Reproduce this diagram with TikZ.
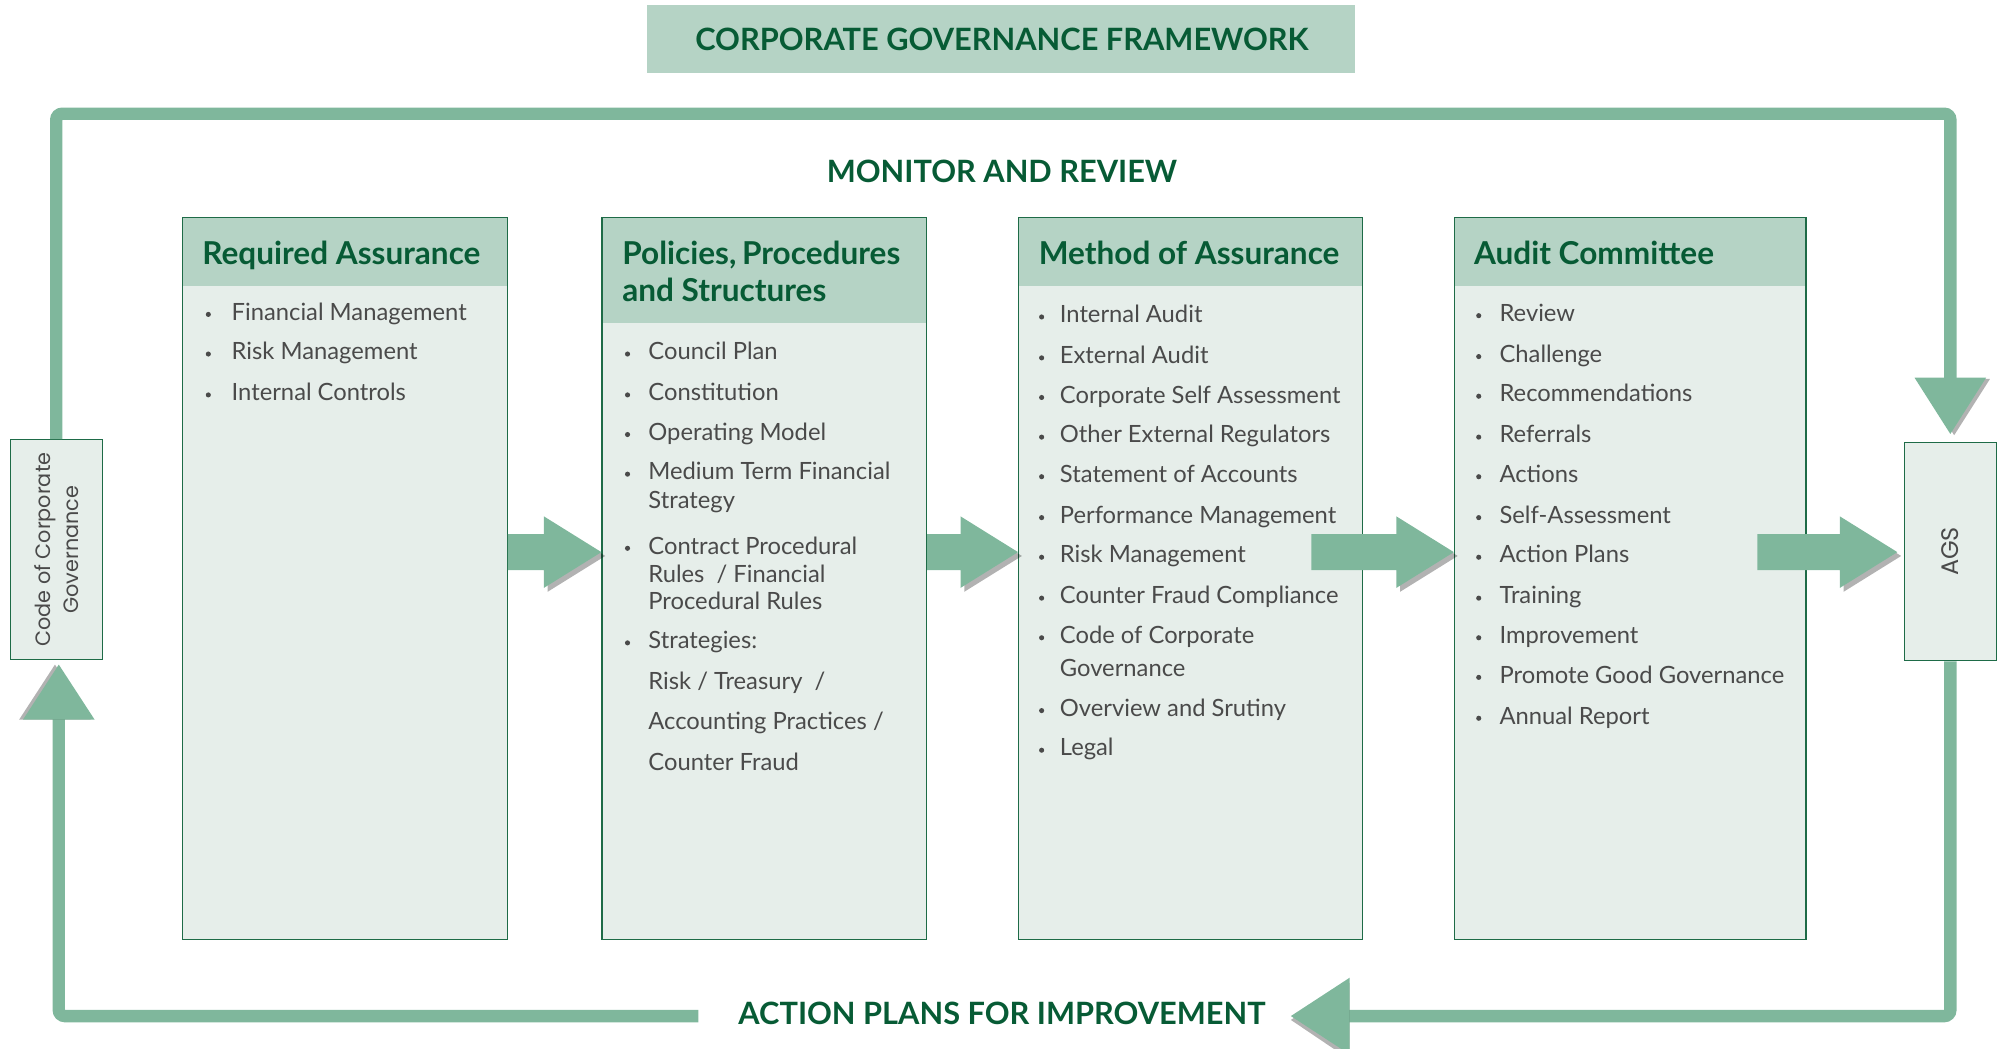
\documentclass[tikz,border=0pt]{standalone}
\usepackage{fontspec}
\setmainfont{Lato}
\newfontfamily\geofont{Poppins}
\usetikzlibrary{positioning,calc,fit}

\definecolor{loopgreen}{HTML}{7FB79C}
\definecolor{headgreen}{HTML}{B5D3C5}
\definecolor{paleface}{HTML}{E6EEEA}
\definecolor{rimgreen}{HTML}{1E6B47}
\definecolor{darkgreen}{HTML}{075B35}
\definecolor{itemgrey}{HTML}{4A4A4A}

\tikzset{
  colbox/.style={draw=rimgreen, line width=0.6pt, fill=paleface, inner sep=0pt},
  headbox/.style={fill=headgreen, inner sep=0pt},
  headtext/.style={anchor=base west, inner sep=0pt, text=darkgreen,
    font=\fontsize{15.8}{18}\selectfont\bfseries},
  itemtext/.style={anchor=base west, inner sep=0pt, text=itemgrey,
    font=\fontsize{11.9}{14}\selectfont},
  banner/.style={anchor=base, inner sep=0pt, text=darkgreen,
    font=\fontsize{15.4}{18}\selectfont\bfseries},
  loopline/.style={draw=loopgreen, line width=6.2pt, rounded corners=3pt},
  sidetext/.style={text=itemgrey, rotate=90, align=center, inner sep=0pt,
    font=\geofont\fontsize{10.4}{14}\selectfont},
  headshadow/.style={fill=black, opacity=0.3},
}

% block arrow from tail to tip, both on the same height
\newcommand{\blockarrow}[2]{%
  \fill[headshadow] ($(#2)+(3,3)$) -- ($(#2)+(-42,31)$) -- ($(#2)+(-42,-25)$) -- cycle;
  \fill[loopgreen] ($(#1)+(0,-14)$) -| ($(#2)+(-45,-28)$) -- (#2)
    -- ($(#2)+(-45,28)$) |- ($(#1)+(0,14)$) -- cycle;
}

\begin{document}
\begin{tikzpicture}[x=0.64pt, y=-0.64pt]
\useasboundingbox (0,0) rectangle (1568,820);

% banners
\node[headbox, fit={(506,4) (1060,57)}] (titlebox) {};
\node[banner] (title) at (784,39.7) {CORPORATE GOVERNANCE FRAMEWORK};
\node[banner] (monitor) at (784,143) {MONITOR AND REVIEW};
\node[banner] (action) at (784,801.7) {ACTION PLANS FOR IMPROVEMENT};

% columns
\node[colbox, fit={(143,170) (397,735)}] (reqbox) {};
\node[colbox, fit={(471,170) (725,735)}] (polbox) {};
\node[colbox, fit={(797,170) (1066,735)}] (methbox) {};
\node[colbox, fit={(1138,170) (1413,735)}] (auditbox) {};

\node[headbox, fit={(143.5,170.5) (396.5,224)}] (reqtop) {};
\node[headbox, fit={(471.5,170.5) (724.5,253)}] (poltop) {};
\node[headbox, fit={(797.5,170.5) (1065.5,224)}] (methtop) {};
\node[headbox, fit={(1138.5,170.5) (1412.5,224)}] (audittop) {};

\node[headtext] (reqhead) at (158,206.6) {Required Assurance};
\node[headtext] (polhead) at (486.6,206.6) {Policies,\kern-1pt\ Procedures};
\node[headtext] (polhead2) at (486.6,236) {and Structures};
\node[headtext] (methhead) at (812.5,206.6) {Method of Assurance};
\node[headtext] (audithead) at (1153,206.6) {Audit Committee};

% items
\foreach \yy/\txt [count=\i] in {244/Financial Management, 275/Risk Management,
    307/Internal Controls} {
  \fill[itemgrey] (163,\yy+2) circle (2);
  \node[itemtext] (req\i) at (181,\yy+6.5) {\txt};
}
\foreach \yy/\txt [count=\i] in {275/Council Plan, 307/Constitution,
    338/Operating Model, 369/Medium Term Financial, 427/Contract Procedural,
    501/Strategies:} {
  \fill[itemgrey] (491,\yy+2) circle (2);
  \node[itemtext] (pol\i) at (507,\yy+6.5) {\txt};
}
\foreach \yy/\txt [count=\i] in {391/Strategy, 449/{Rules\ \ / Financial},
    470/Procedural Rules, 533/{Risk / Treasury\ \ /},
    564/{Accounting Practices /}, 596/Counter Fraud} {
  \node[itemtext] (polmore\i) at (507,\yy+6.5) {\txt};
}
\foreach \yy/\txt [count=\i] in {246/Internal Audit, 278/External Audit,
    309/Corporate Self Assessment, 340/Other External Regulators,
    371/Statement of Accounts, 403/Performance Management,
    434/Risk Management, 466/Counter Fraud Compliance,
    497/Code of Corporate, 554/Overview and Srutiny, 585/Legal} {
  \fill[itemgrey] (815,\yy+2) circle (2);
  \node[itemtext] (meth\i) at (829,\yy+6.5) {\txt};
}
\node[itemtext] (methmore) at (829,529.5) {Governance};
\foreach \yy/\txt [count=\i] in {245/Review, 277/Challenge,
    308/Recommendations, 340/Referrals, 371/Actions, 403/Self-Assessment,
    434/Action Plans, 466/Training, 497/Improvement,
    528/Promote Good Governance, 560/Annual Report} {
  \fill[itemgrey] (1157,\yy+2) circle (2);
  \node[itemtext] (audit\i) at (1173,\yy+6.5) {\txt};
}

% side boxes
\node[colbox, fit={(8,344) (80,516)}] (codebox) {};
\node[sidetext] (codetext) at (codebox.center) {Code of Corporate\\Governance};
\node[colbox, fit={(1490,346) (1562,517)}] (agsbox) {};
\node[sidetext, font=\geofont\fontsize{12}{14}\selectfont] (agstext) at (agsbox.center) {AGS};

% flow arrows
\coordinate (axis) at (0,432);
\coordinate (methtail) at (1026,432);
\coordinate (audittail) at (1375,432);
\coordinate (agsin) at ($(agsbox.west |- axis)+(-5,0)$);
\blockarrow{reqbox.east |- axis}{polbox.west |- axis}
\blockarrow{polbox.east |- axis}{methbox.west |- axis}
\blockarrow{methtail}{auditbox.west |- axis}
\blockarrow{audittail}{agsin}

% monitor and review loop
\coordinate (ring) at (0,89);
\coordinate (floor) at (0,795);
\coordinate (downtip) at ($(agsbox.north)+(0,-6)$);
\coordinate (uptip) at (46,520);
\coordinate (lefttip) at (1010,795);
\draw[loopline] (codebox.north) -- (codebox.north |- ring)
  -- (agsbox.north |- ring) -- ($(downtip)+(0,-40)$);
\fill[headshadow] ($(downtip)+(3,1)$) -- ($(downtip)+(31,-43)$) -- ($(downtip)+(-25,-43)$) -- cycle;
\fill[loopgreen] (downtip) -- ($(downtip)+(28,-44)$) -- ($(downtip)+(-28,-44)$) -- cycle;

\draw[loopline] (agsbox.south) -- (agsbox.south |- floor) -- ($(lefttip)+(44,0)$);
\fill[headshadow] ($(lefttip)+(0,3)$) -- ($(lefttip)+(46,34)$) -- ($(lefttip)+(46,-26)$) -- cycle;
\fill[loopgreen] (lefttip) -- ($(lefttip)+(46,-30)$) -- ($(lefttip)+(46,30)$) -- cycle;

\draw[loopline] ($(action.west |- floor)+(-31,0)$) -- (uptip |- floor) -- ($(uptip)+(0,40)$);
\fill[headshadow] ($(uptip)+(-3,0)$) -- ($(uptip)+(-31,43)$) -- ($(uptip)+(25,43)$) -- cycle;
\fill[loopgreen] (uptip) -- ($(uptip)+(-28,43)$) -- ($(uptip)+(28,43)$) -- cycle;
\end{tikzpicture}
\end{document}
